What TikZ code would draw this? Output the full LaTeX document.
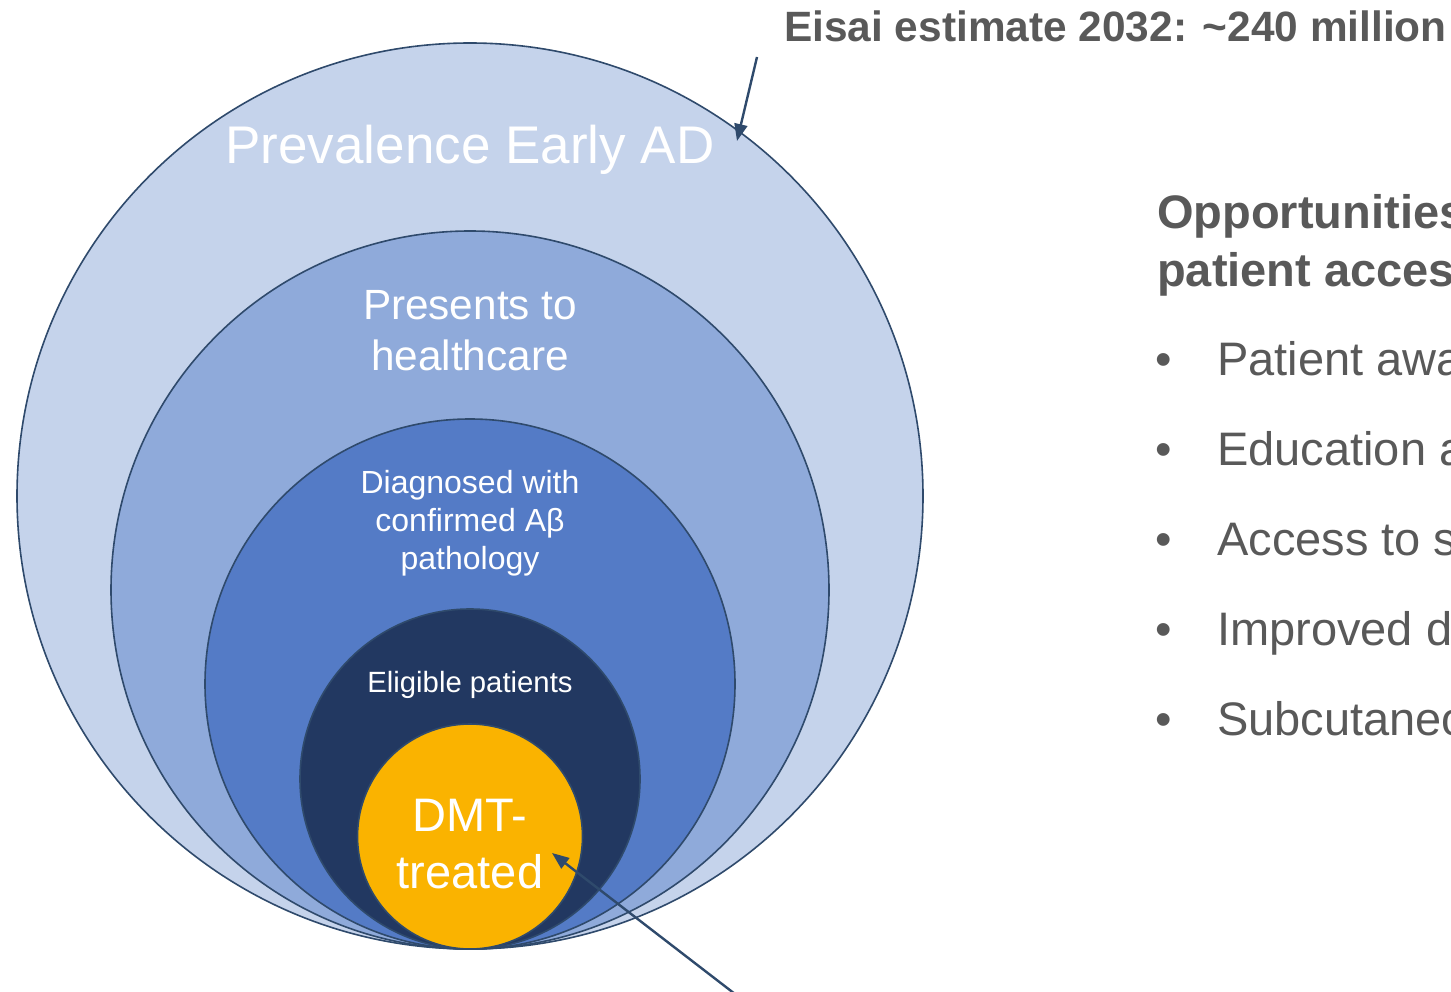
\documentclass[tikz,border=0pt]{standalone}
\usepackage{fontspec}
\setmainfont{Liberation Sans}
\usetikzlibrary{arrows.meta}
\definecolor{cA}{HTML}{C5D3EB}
\definecolor{cB}{HTML}{8FAADA}
\definecolor{cC}{HTML}{547BC6}
\definecolor{cD}{HTML}{223861}
\definecolor{cE}{HTML}{FAB300}
\definecolor{edge}{HTML}{2F4A6C}
\definecolor{txtgrey}{HTML}{595959}
\begin{document}
\begin{tikzpicture}[x=1pt,y=-1pt,
  ring/.style={circle, draw=edge, line width=1.6pt, inner sep=0pt},
  lbl/.style={text=white, align=center, inner sep=0pt},
  grey/.style={text=txtgrey, inner sep=0pt, anchor=base west},
  arr/.style={draw=edge, line width=2.4pt, -{Triangle[length=17pt,width=13pt]}}]
\clip (0,0) rectangle (1451,992);
\fill[white] (0,0) rectangle (1451,992);
% circles, all tangent at the bottom (y = 949)
\node[ring, fill=cA, minimum size=906pt] (outer) at (470,496) {};
\node[ring, fill=cB, minimum size=718pt] (health) at (470,590) {};
\node[ring, fill=cC, minimum size=530pt] (diag) at (470,684) {};
\node[ring, fill=cD, minimum size=340pt] (elig) at (470,779) {};
\node[ring, fill=cE, minimum size=225pt] (dmt) at (470,836.5) {};
% labels
\node[lbl, anchor=base, font=\fontsize{53}{63}\selectfont] (tprev) at (470,164) {Prevalence Early AD};
\node[lbl, font=\fontsize{42.3}{51}\selectfont] (thealth) at (470,331) {Presents to\\healthcare};
\node[lbl, font=\fontsize{32}{38}\selectfont] (tdiag) at (470,523) {Diagnosed with\\confirmed Aβ\\pathology};
\node[lbl, anchor=base, font=\fontsize{29.3}{35}\selectfont] (telig) at (470,692) {Eligible patients};
\node[lbl, font=\fontsize{47}{57}\selectfont] (tdmt) at (470,844) {DMT-\\treated};
% title
\node[grey, font=\bfseries\fontsize{42.4}{50}\selectfont] (title) at (784,42) {Eisai estimate 2032: \textasciitilde 240 million};
% right-hand list
\node[grey, font=\bfseries\fontsize{47}{58}\selectfont] (opp1) at (1157,229) {Opportunities};
\node[grey, font=\bfseries\fontsize{47}{58}\selectfont] (opp2) at (1157,287) {patient access};
\foreach \t [count=\i] in {Patient awa, Education a, Access to s, Improved d, Subcutaneo}{
  \node[grey, font=\fontsize{47}{57}\selectfont] (b\i) at (1217,{375+90*(\i-1)}) {\t};
  \node[grey, font=\fontsize{47}{57}\selectfont] (d\i) at (1155,{375+90*(\i-1)}) {•};
}
% arrows
\coordinate (a1s) at (757,57);
\coordinate (a1e) at (737,141);
\draw[arr] (a1s) -- (a1e);
\coordinate (a2s) at (735,994);
\coordinate (a2e) at (552,853);
\draw[arr] (a2s) -- (a2e);
\end{tikzpicture}
\end{document}
